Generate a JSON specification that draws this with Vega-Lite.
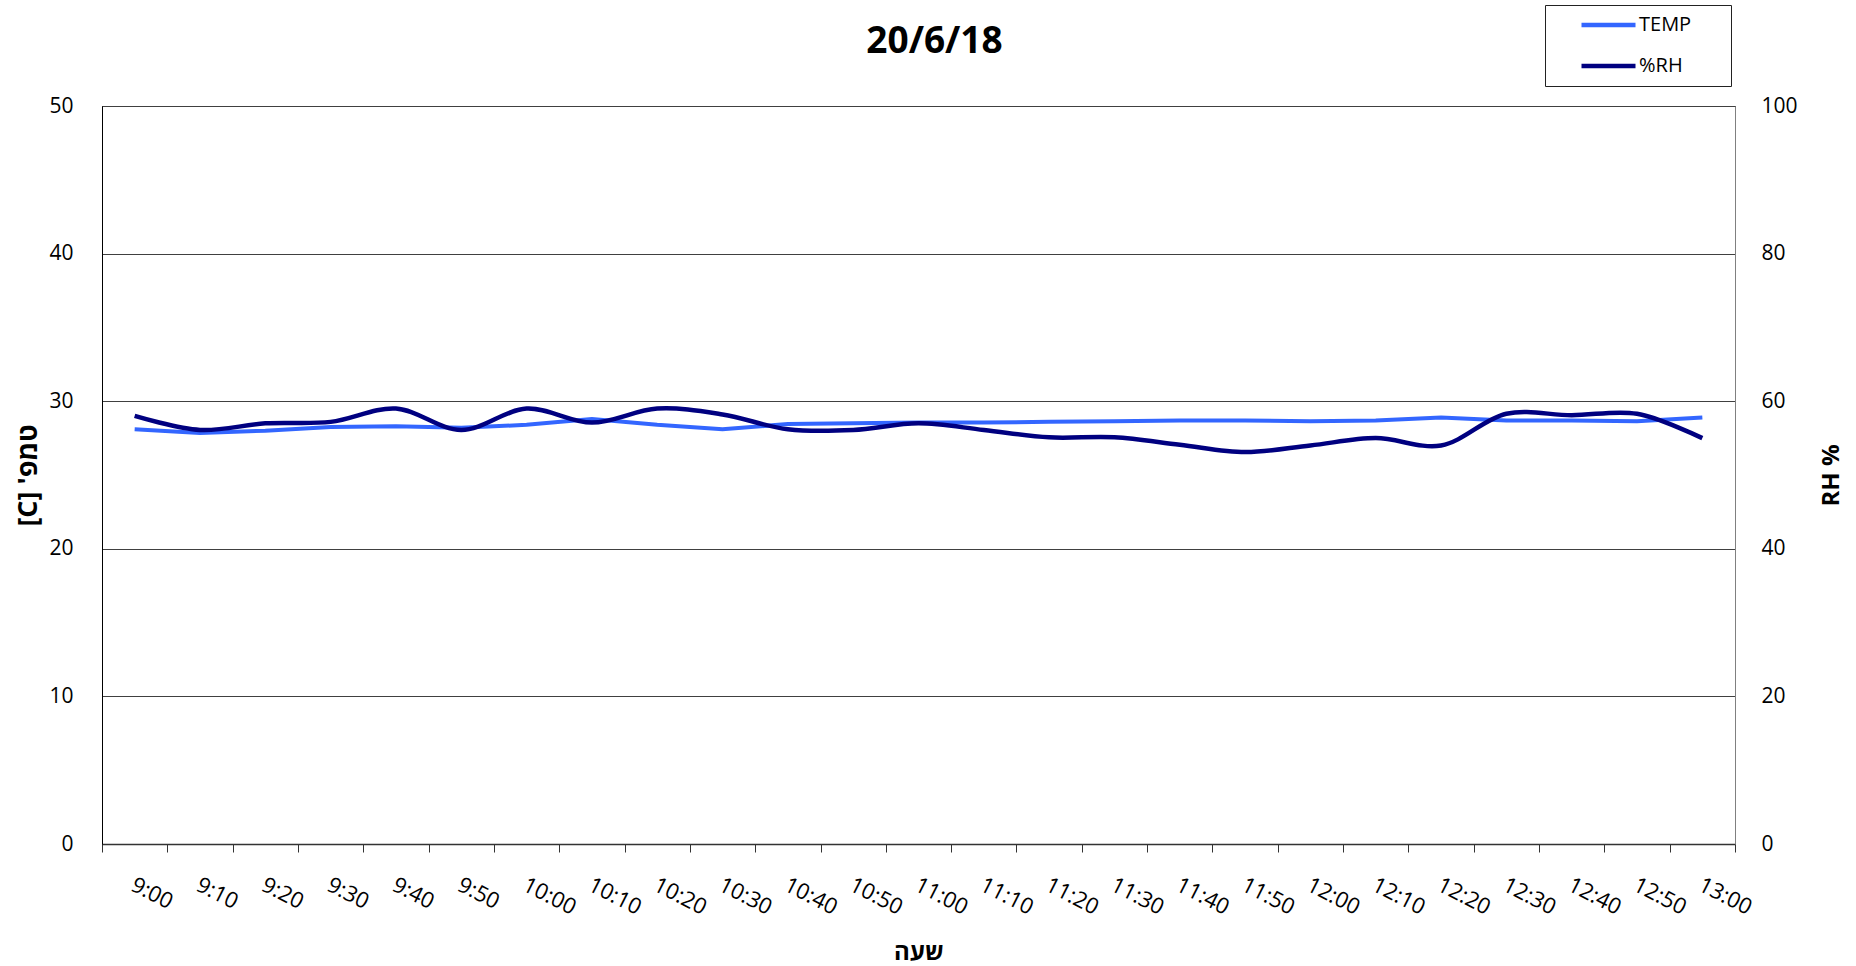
{
  "$schema": "https://vega.github.io/schema/vega-lite/v6.json",
  "width": 1633,
  "height": 738,
  "autosize": {"type": "none"},
  "padding": {"left": 102, "top": 106, "right": 121, "bottom": 122},
  "background": "white",
  "config": {"view": {"stroke": "#000", "strokeWidth": 1}, "font": "Open Sans, DejaVu Sans"},
  "title": {"text": "20/6/18", "fontSize": 37, "fontWeight": "bold", "anchor": "middle", "dx": 16, "offset": 0, "dy": 56, "color": "#000"},
  "data": {"values": [
    {"time": "9:00", "TEMP": 28.1, "RH": 58.0},
    {"time": "9:10", "TEMP": 27.85, "RH": 56.1},
    {"time": "9:20", "TEMP": 28.0, "RH": 57.0},
    {"time": "9:30", "TEMP": 28.25, "RH": 57.2},
    {"time": "9:40", "TEMP": 28.3, "RH": 59.0},
    {"time": "9:50", "TEMP": 28.2, "RH": 56.1},
    {"time": "10:00", "TEMP": 28.4, "RH": 59.0},
    {"time": "10:10", "TEMP": 28.8, "RH": 57.1},
    {"time": "10:20", "TEMP": 28.4, "RH": 59.0},
    {"time": "10:30", "TEMP": 28.1, "RH": 58.2},
    {"time": "10:40", "TEMP": 28.45, "RH": 56.2},
    {"time": "10:50", "TEMP": 28.5, "RH": 56.1},
    {"time": "11:00", "TEMP": 28.55, "RH": 57.0},
    {"time": "11:10", "TEMP": 28.55, "RH": 56.1},
    {"time": "11:20", "TEMP": 28.6, "RH": 55.1},
    {"time": "11:30", "TEMP": 28.65, "RH": 55.1},
    {"time": "11:40", "TEMP": 28.7, "RH": 54.1},
    {"time": "11:50", "TEMP": 28.7, "RH": 53.1},
    {"time": "12:00", "TEMP": 28.65, "RH": 54.0},
    {"time": "12:10", "TEMP": 28.7, "RH": 55.0},
    {"time": "12:20", "TEMP": 28.9, "RH": 54.0},
    {"time": "12:30", "TEMP": 28.7, "RH": 58.3},
    {"time": "12:40", "TEMP": 28.7, "RH": 58.1},
    {"time": "12:50", "TEMP": 28.65, "RH": 58.3},
    {"time": "13:00", "TEMP": 28.9, "RH": 55.0}
  ]},
  "encoding": {
    "x": {
      "field": "time",
      "type": "ordinal",
      "sort": null,
      "scale": {"type": "band", "paddingInner": 0, "paddingOuter": 0},
      "axis": {
        "tickBand": "extent",
        "grid": false,
        "labelAngle": 27,
        "labelFontSize": 22,
        "labelColor": "#000",
        "labelPadding": 22,
        "labelOffset": 2,
        "tickSize": 8,
        "tickColor": "#333",
        "domainColor": "#333",
        "domainWidth": 1.5,
        "title": "שעה",
        "titleFontSize": 24,
        "titleFontWeight": "bold",
        "titleColor": "#000",
        "titlePadding": 22
      }
    }
  },
  "layer": [
    {
      "mark": {"type": "line", "strokeWidth": 4},
      "encoding": {
        "y": {
          "field": "TEMP",
          "type": "quantitative",
          "scale": {"domain": [0, 50]},
          "axis": {
            "orient": "left",
            "values": [0, 10, 20, 30, 40, 50],
            "grid": true,
            "gridColor": "#404040",
            "gridWidth": 1,
            "ticks": false,
            "labelFontSize": 21,
            "labelColor": "#000",
            "labelPadding": 29,
            "domainColor": "#000",
            "title": "\u202bטמפ' [C]\u202c",
            "titleFontSize": 27,
            "titleFontWeight": "bold",
            "titleColor": "#000",
            "titlePadding": 6
          }
        },
        "color": {
          "datum": "TEMP",
          "scale": {"domain": ["TEMP", "%RH"], "range": ["#3366FF", "#000080"]},
          "legend": {
            "orient": "none",
            "legendX": 1443,
            "legendY": -101,
            "title": null,
            "strokeColor": "#222",
            "fillColor": "#fff",
            "padding": 10,
            "clipHeight": 20,
            "symbolType": "stroke",
            "symbolStrokeWidth": 4.5,
            "symbolSize": 2916,
            "symbolOffset": 24,
            "labelFontSize": 20,
            "labelColor": "#000",
            "labelOffset": 1,
            "labelExpr": "datum.label + '\u2800\u2800'",
            "rowPadding": 21
          }
        }
      }
    },
    {
      "mark": {"type": "line", "strokeWidth": 4.5, "interpolate": "catmull-rom"},
      "encoding": {
        "y": {
          "field": "RH",
          "type": "quantitative",
          "scale": {"domain": [0, 100]},
          "axis": {
            "orient": "right",
            "values": [0, 20, 40, 60, 80, 100],
            "grid": false,
            "ticks": false,
            "labelFontSize": 21,
            "labelColor": "#000",
            "labelPadding": 26,
            "domainColor": "#808080",
            "title": "RH %",
            "titleAngle": -90,
            "titleFontSize": 24,
            "titleFontWeight": "bold",
            "titleColor": "#000",
            "titlePadding": 46
          }
        },
        "color": {"datum": "%RH"}
      }
    }
  ],
  "resolve": {"scale": {"y": "independent"}}
}
